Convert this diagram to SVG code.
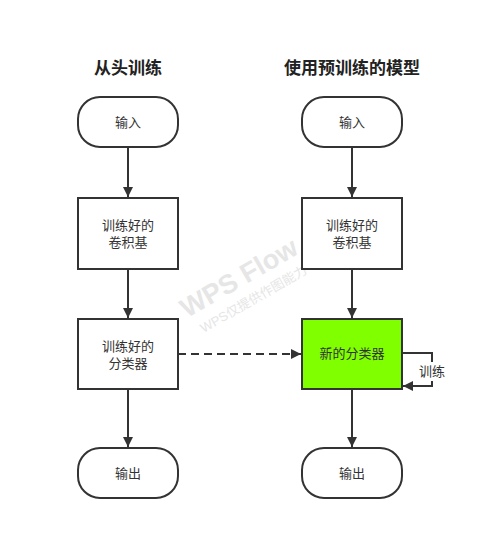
<svg xmlns="http://www.w3.org/2000/svg" width="494" height="560" viewBox="0 0 494 560">
<style>
.n{fill:#fff;stroke:#333;stroke-width:2}
.g{fill:#7fff00;stroke:#333;stroke-width:2}
.t{font-family:"Liberation Sans","Noto Sans CJK SC",sans-serif;font-size:13px;fill:#333;text-anchor:middle}
.h{font-family:"Liberation Sans","Noto Sans CJK SC",sans-serif;font-size:17px;font-weight:bold;fill:#222;text-anchor:middle}
.c{fill:none;stroke:#333;stroke-width:2}
.w{font-family:"Liberation Sans","Noto Sans CJK SC",sans-serif;fill:#e6e6e6;text-anchor:middle}
</style>
<defs>
<marker id="a" viewBox="0 0 10 10" refX="10" refY="5" markerWidth="5" markerHeight="6" markerUnits="strokeWidth" orient="auto">
<path d="M0,0 L10,5 L0,10 Z" fill="#333"/>
</marker>
</defs>
<rect width="494" height="560" fill="#fff"/>
<g id="watermark" transform="rotate(-30 246 290)">
<text class="w" x="246" y="285" font-size="27" font-weight="bold">WPS Flow</text>
<text class="w" x="248" y="306" font-size="13">WPS仅提供作图能力</text>
</g>
<text class="h" x="128" y="74">从头训练</text>
<text class="h" x="352" y="74">使用预训练的模型</text>
<g id="connectors">
<line class="c" x1="128" y1="147" x2="128" y2="197" marker-end="url(#a)"/>
<line class="c" x1="128" y1="269" x2="128" y2="318" marker-end="url(#a)"/>
<line class="c" x1="128" y1="389" x2="128" y2="447" marker-end="url(#a)"/>
<line class="c" x1="352" y1="147" x2="352" y2="197" marker-end="url(#a)"/>
<line class="c" x1="352" y1="269" x2="352" y2="318" marker-end="url(#a)"/>
<line class="c" x1="352" y1="389" x2="352" y2="447" marker-end="url(#a)"/>
<line class="c" x1="178" y1="354" x2="301" y2="354" stroke-dasharray="8 5" marker-end="url(#a)"/>
<path class="c" d="M402,353 H432 V386 H403" marker-end="url(#a)"/>
<rect x="417" y="362" width="30" height="19" fill="#fff"/>
<text class="t" x="432" y="376">训练</text>
</g>
<g id="in1"><rect class="n" x="78" y="97" width="100" height="50" rx="22"/><text class="t" x="128" y="127">输入</text></g>
<g id="conv1"><rect class="n" x="78" y="198" width="100" height="71"/><text class="t" x="128" y="230">训练好的</text><text class="t" x="128" y="247">卷积基</text></g>
<g id="cls1"><rect class="n" x="78" y="319" width="100" height="70"/><text class="t" x="128" y="351">训练好的</text><text class="t" x="128" y="368">分类器</text></g>
<g id="out1"><rect class="n" x="78" y="448" width="100" height="50" rx="22"/><text class="t" x="128" y="478">输出</text></g>
<g id="in2"><rect class="n" x="302" y="97" width="100" height="50" rx="22"/><text class="t" x="352" y="127">输入</text></g>
<g id="conv2"><rect class="n" x="302" y="198" width="100" height="71"/><text class="t" x="352" y="230">训练好的</text><text class="t" x="352" y="247">卷积基</text></g>
<g id="cls2"><rect class="g" x="302" y="319" width="100" height="70"/><text class="t" x="352" y="358">新的分类器</text></g>
<g id="out2"><rect class="n" x="302" y="448" width="100" height="50" rx="22"/><text class="t" x="352" y="478">输出</text></g>
</svg>
